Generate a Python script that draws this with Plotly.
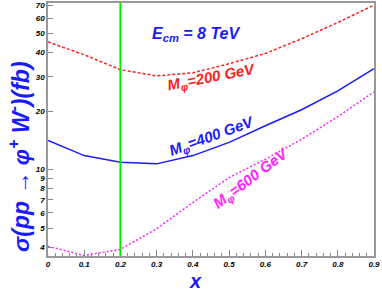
import plotly.graph_objects as go

x_vals = [0.0, 0.1, 0.2, 0.3, 0.4, 0.5, 0.6, 0.7, 0.8, 0.9]
sigma_200 = [45.3, 38.9, 32.6, 30.3, 31.4, 35.0, 39.5, 47.0, 57.0, 70.0]
sigma_400 = [14.1, 11.8, 10.9, 10.7, 11.8, 13.8, 16.8, 20.3, 25.4, 33.0]
sigma_600 = [4.03, 3.62, 3.89, 4.97, 6.77, 9.1, 11.3, 14.3, 18.7, 25.1]
x_cut = 0.2
y_tickvals = [4, 5, 6, 7, 8, 9, 10, 20, 30, 40, 50, 60, 70]
x_tickvals = [0, 0.1, 0.2, 0.3, 0.4, 0.5, 0.6, 0.7, 0.8, 0.9]
x_ticktext = ["0", "0.1", "0.2", "0.3", "0.4", "0.5", "0.6", "0.7", "0.8", "0.9"]

FAM = "Liberation Sans"
def f(size, color="black"):
    return dict(family=FAM, size=size, color=color, weight="bold", style="italic")

fig = go.Figure()
fig.add_trace(go.Scatter(x=x_vals, y=sigma_200, mode="lines",
                         line=dict(color="#ff2020", width=1.5, dash="3px,2px")))
fig.add_trace(go.Scatter(x=x_vals, y=sigma_400, mode="lines",
                         line=dict(color="#1a1aff", width=1.5)))
fig.add_trace(go.Scatter(x=x_vals, y=sigma_600, mode="lines",
                         line=dict(color="#ff22ff", width=1.5, dash="2px,2px")))
fig.add_vline(x=x_cut, line=dict(color="#00ee00", width=2))

def ann(x, y, text, size, color, angle=0):
    return dict(xref="paper", yref="paper", x=x, y=y, text=text, showarrow=False,
                xanchor="center", yanchor="middle", textangle=angle, font=f(size, color))

fig.update_layout(
    template="none",
    width=382, height=303,
    margin=dict(l=48, r=8, t=3, b=47, pad=0),
    paper_bgcolor="white", plot_bgcolor="white",
    showlegend=False,
    xaxis=dict(range=[0, 0.9], tickvals=x_tickvals, ticktext=x_ticktext,
               ticks="inside", ticklen=6, tickcolor="#888", tickwidth=1,
               minor=dict(dtick=0.02, ticks="inside", ticklen=3, tickcolor="#888"),
               showgrid=False, zeroline=False, showline=True, mirror=True,
               linecolor="#999", linewidth=1.5, tickfont=f(8),
               automargin=False, ticklabeloverflow="allow"),
    yaxis=dict(type="log", range=[0.556, 1.856], tickvals=y_tickvals,
               ticktext=[str(v) for v in y_tickvals],
               ticks="inside", ticklen=5, tickcolor="#888", tickwidth=1,
               showgrid=False, zeroline=False, showline=True, mirror=True,
               linecolor="#999", linewidth=1.5, tickfont=f(8),
               automargin=False, ticklabeloverflow="allow"),
    annotations=[
        ann((19-48)/326, (256-157)/253, "σ(pp → φ<sup>+</sup> W<sup>-</sup>)(fb)", 23, "#1a1aff", -90),
        ann(0.451, -0.099, "x", 20, "#1a1aff"),
        ann(0.454, 0.874, "E<sub>cm</sub> = 8 TeV", 16, "#1a1aff"),
        ann(0.503, 0.704, "M<sub>φ</sub>=200 GeV", 15, "#ff2020", -11),
        ann(0.503, 0.474, "M<sub>φ</sub>=400 GeV", 15, "#1a1aff", -20),
        ann(0.623, 0.308, "M<sub>φ</sub>=600 GeV", 15, "#ff22ff", -37),
    ],
)
fig.write_html("out.html", config={"displayModeBar": False},
               post_script="document.body.style.margin='0';document.body.style.overflow='hidden';")
